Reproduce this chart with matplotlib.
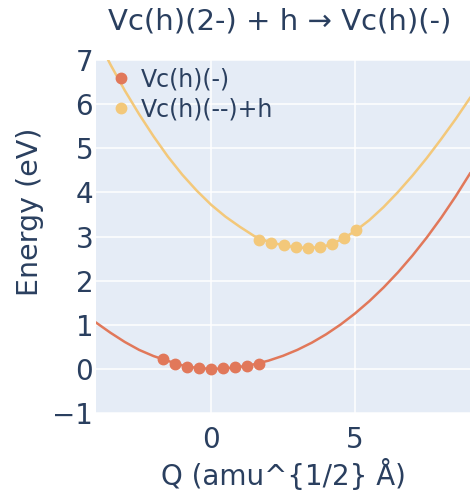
import matplotlib
matplotlib.use('Agg')
import matplotlib.pyplot as plt

plt.rcParams['font.family'] = ['DejaVu Sans']

# sampled points of the two charge states
q_minus = [-1.68, -1.26, -0.84, -0.42, 0.0, 0.42, 0.84, 1.26, 1.68]
e_minus = [0.225, 0.11, 0.05, 0.015, 0.0, 0.012, 0.045, 0.075, 0.11]
q_2minus = [1.68, 2.10, 2.52, 2.94, 3.37, 3.79, 4.21, 4.63, 5.05]
e_2minus = [2.91, 2.86, 2.80, 2.76, 2.74, 2.77, 2.83, 2.97, 3.14]

# fitted potential energy curves
q_fit = [-4.0, -3.5, -3.0, -2.5, -2.0, -1.5, -1.0, -0.5, 0.0, 0.5, 1.0, 1.5, 2.0,
         2.5, 3.0, 3.5, 4.0, 4.5, 5.0, 5.5, 6.0, 6.5, 7.0, 7.5, 8.0, 8.5, 9.0]
fit_minus = [1.05, 0.82, 0.61, 0.43, 0.29, 0.18, 0.08, 0.02, 0.0, 0.011, 0.046, 0.104, 0.187,
             0.296, 0.431, 0.593, 0.784, 1.004, 1.254, 1.534, 1.846, 2.19, 2.568, 2.98, 3.426, 3.909, 4.428]
fit_2minus = [7.54, 6.90, 6.31, 5.77, 5.27, 4.81, 4.40, 4.04, 3.72, 3.45, 3.22, 3.01, 2.88,
              2.80, 2.75, 2.74, 2.79, 2.92, 3.12, 3.37, 3.67, 4.01, 4.38, 4.78, 5.21, 5.66, 6.14]

red = '#e1785a'
yellow = '#f3c87a'
txt = '#2a3f5f'

fig = plt.figure(figsize=(4.70, 4.97), dpi=100)
ax = fig.add_axes([96/470, 1-413/497, 374/470, 353/497])
ax.set_facecolor('#e5ecf6')

ax.plot(q_fit, fit_minus, color=red, lw=1.8, zorder=3)
ax.plot(q_fit, fit_2minus, color=yellow, lw=1.8, zorder=3)
ax.plot(q_minus, e_minus, 'o', color=red, ms=7.5, label='Vc(h)(-)', zorder=4)
ax.plot(q_2minus, e_2minus, 'o', color=yellow, ms=7.5, label='Vc(h)(--)+h', zorder=4)

ax.set_xlim(-4, 9)
ax.set_ylim(-1, 7)
ax.set_xticks([0, 5])
ax.set_yticks(range(-1, 8))
ax.grid(True, color='white', lw=1.1)
ax.set_axisbelow(True)
for s in ax.spines.values():
    s.set_visible(False)
ax.tick_params(length=0, labelsize=20, labelcolor=txt)
ax.tick_params(axis='y', pad=2)
ax.tick_params(axis='x', pad=9)

ax.set_xlabel('Q (amu^{1/2} Å)', fontsize=20, color=txt, labelpad=4)
ax.set_ylabel('Energy (eV)', fontsize=20.5, color=txt)
ax.yaxis.set_label_coords(-0.14, 0.569)
fig.suptitle('Vc(h)(2-) + h \u2192 Vc(h)(-)', fontsize=21, color=txt, x=0.596, y=0.985)

ax.legend(loc='upper left', frameon=False, fontsize=17, labelcolor=txt,
          handletextpad=0.2, borderaxespad=0.0, labelspacing=0.25, handlelength=1.3,
          bbox_to_anchor=(0.0, 1.005))

fig.savefig('out.png', dpi=100)
